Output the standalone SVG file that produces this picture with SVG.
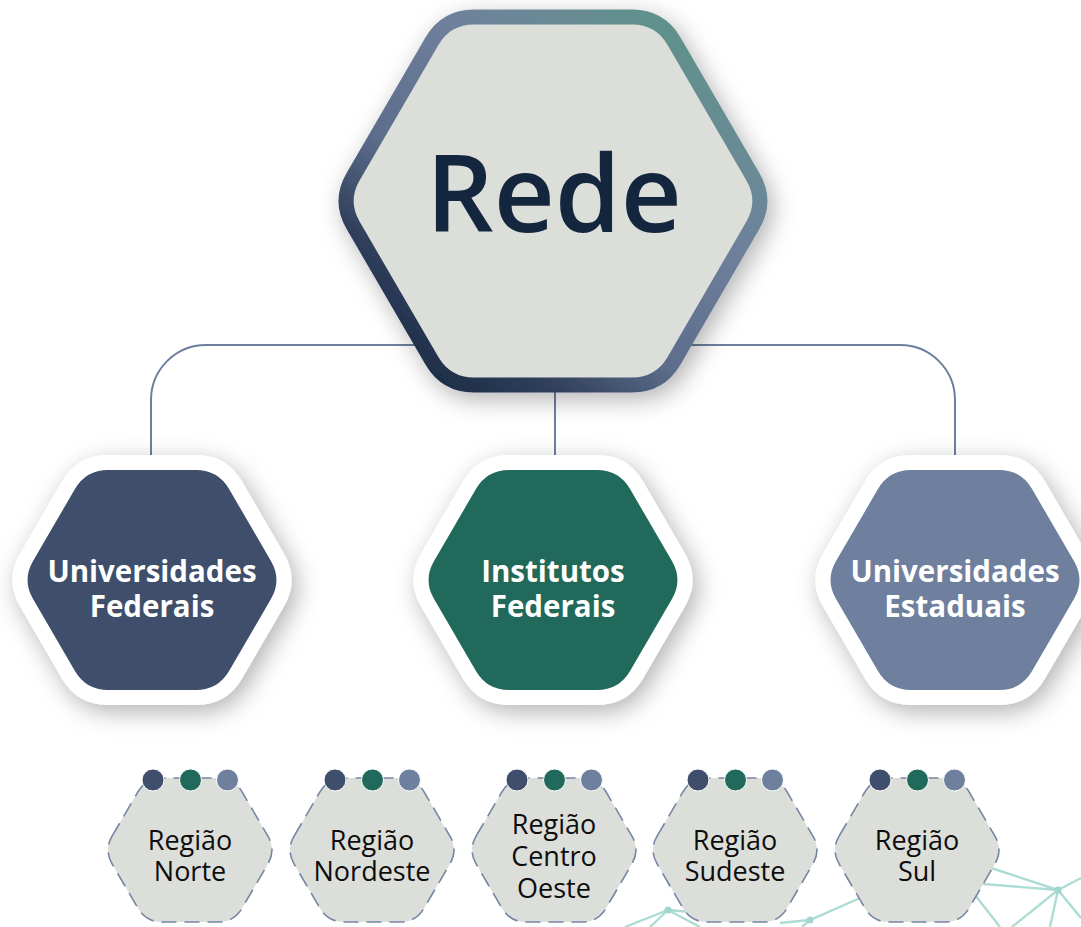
<svg xmlns="http://www.w3.org/2000/svg" width="1081" height="927" viewBox="0 0 1081 927">
<style>
.conn{fill:none;stroke:#6E7F9E;stroke-width:2}
.deco{fill:none;stroke:#9ED6CC;stroke-width:2.4;opacity:0.85}
.decon{fill:#9ED6CC;opacity:0.95}
.mid-out{fill:#FFFFFF;stroke:#FFFFFF;stroke-width:30;stroke-linejoin:round}
.mid-lbl{font-family:"Open Sans","Noto Sans",sans-serif;font-weight:700;font-size:29.5px;fill:#FFFFFF;text-anchor:middle}
.reg{fill:#DCDEDA;stroke:#7585A4;stroke-width:1.6;stroke-dasharray:15 8}
.reg-lbl{font-family:"Open Sans","Noto Sans",sans-serif;font-weight:500;font-size:27px;fill:#0D0D0D;text-anchor:middle}
.d1{fill:#3F4F6B;stroke:#FFFFFF;stroke-width:1}
.d2{fill:#21695A;stroke:#FFFFFF;stroke-width:1}
.d3{fill:#6F809E;stroke:#FFFFFF;stroke-width:1}
</style>
<defs>
<filter id="shadow" x="-30%" y="-30%" width="160%" height="160%">
<feDropShadow dx="5" dy="7" stdDeviation="12" flood-color="#000000" flood-opacity="0.3"/>
</filter>
<linearGradient id="topGrad" gradientUnits="userSpaceOnUse" x1="-153" y1="191" x2="147" y2="-191">
<stop offset="0" stop-color="#15263E"/>
<stop offset="0.2" stop-color="#2F3F5B"/>
<stop offset="0.38" stop-color="#5C6D8B"/>
<stop offset="0.65" stop-color="#6E7F9C"/>
<stop offset="0.8" stop-color="#6A8A96"/>
<stop offset="1" stop-color="#5A9485"/>
</linearGradient>
<path id="hexT" d="M-199.92,-24.21 L-121.08,-159.79 Q-107,-184 -79,-184 L79,-184 Q107,-184 121.08,-159.79 L199.92,-24.21 Q214,0 199.92,24.21 L121.08,159.79 Q107,184 79,184 L-79,184 Q-107,184 -121.08,159.79 L-199.92,24.21 Q-214,0 -199.92,-24.21 Z"/>
<path id="hexM" d="M-118.94,-19.02 L-77.06,-90.98 Q-66,-110 -44,-110 L44,-110 Q66,-110 77.06,-90.98 L118.94,-19.02 Q130,0 118.94,19.02 L77.06,90.98 Q66,110 44,110 L-44,110 Q-66,110 -77.06,90.98 L-118.94,19.02 Q-130,0 -118.94,-19.02 Z"/>
<path id="hexS" d="M-77.94,-13.82 L-52.06,-58.18 Q-44,-72 -28,-72 L28,-72 Q44,-72 52.06,-58.18 L77.94,-13.82 Q86,0 77.94,13.82 L52.06,58.18 Q44,72 28,72 L-28,72 Q-44,72 -52.06,58.18 L-77.94,13.82 Q-86,0 -77.94,-13.82 Z"/>
<g id="dots">
<circle class="d1" cx="-37" cy="0" r="11"/>
<circle class="d2" cx="0.5" cy="0" r="11"/>
<circle class="d3" cx="37.5" cy="0" r="11"/>
</g>
</defs>
<rect width="1081" height="927" fill="#FFFFFF"/>

<g id="decoration">
<path class="deco" d="M625,927 L668,910 L700,927 M668,910 L650,927 M668,910 L760,918 M780,923 L810,920 L860,898 M810,920 L802,927 M985,866 L1058,890 L1081,878 M983,884 L1058,890 M1058,890 L1012,927 M1058,890 L1050,927 M1058,890 L1081,918 M975,895 L1000,927"/>
<circle class="decon" cx="668" cy="910" r="3.5"/>
<circle class="decon" cx="810" cy="920" r="3.5"/>
<circle class="decon" cx="1058" cy="890" r="3.5"/>
</g>

<g id="connectors">
<path class="conn" d="M151,456 V400 A55,55 0 0 1 206,345 H900 A55,55 0 0 1 955,400 V456"/>
<path class="conn" d="M555,380 V456"/>
</g>

<g id="rede" transform="translate(553,201)">
<use href="#hexT" fill="#DCDEDA" stroke="url(#topGrad)" stroke-width="15" filter="url(#shadow)"/>
<text x="1" y="31" font-family="'Open Sans','Noto Sans',sans-serif" font-weight="600" font-size="106" fill="#13263D" text-anchor="middle">Rede</text>
</g>

<g id="universidades-federais" transform="translate(152,580)">
<use href="#hexM" class="mid-out" filter="url(#shadow)"/>
<use href="#hexM" fill="#3F4F6B"/>
<text class="mid-lbl" x="0" y="2">Universidades</text>
<text class="mid-lbl" x="0" y="37">Federais</text>
</g>

<g id="institutos-federais" transform="translate(553,580)">
<use href="#hexM" class="mid-out" filter="url(#shadow)"/>
<use href="#hexM" fill="#21695A"/>
<text class="mid-lbl" x="0" y="2">Institutos</text>
<text class="mid-lbl" x="0" y="37">Federais</text>
</g>

<g id="universidades-estaduais" transform="translate(955,580)">
<use href="#hexM" class="mid-out" filter="url(#shadow)"/>
<use href="#hexM" fill="#6F809E"/>
<text class="mid-lbl" x="0" y="2">Universidades</text>
<text class="mid-lbl" x="0" y="37">Estaduais</text>
</g>

<g id="regiao-norte" transform="translate(190,850)">
<use href="#hexS" class="reg"/>
<use href="#dots" y="-70"/>
<text class="reg-lbl" x="0" y="0">Região</text>
<text class="reg-lbl" x="0" y="31">Norte</text>
</g>

<g id="regiao-nordeste" transform="translate(372,850)">
<use href="#hexS" class="reg"/>
<use href="#dots" y="-70"/>
<text class="reg-lbl" x="0" y="0">Região</text>
<text class="reg-lbl" x="0" y="31">Nordeste</text>
</g>

<g id="regiao-centro-oeste" transform="translate(554,850)">
<use href="#hexS" class="reg"/>
<use href="#dots" y="-70"/>
<text class="reg-lbl" x="0" y="-16">Região</text>
<text class="reg-lbl" x="0" y="16">Centro</text>
<text class="reg-lbl" x="0" y="48">Oeste</text>
</g>

<g id="regiao-sudeste" transform="translate(735,850)">
<use href="#hexS" class="reg"/>
<use href="#dots" y="-70"/>
<text class="reg-lbl" x="0" y="0">Região</text>
<text class="reg-lbl" x="0" y="31">Sudeste</text>
</g>

<g id="regiao-sul" transform="translate(917,850)">
<use href="#hexS" class="reg"/>
<use href="#dots" y="-70"/>
<text class="reg-lbl" x="0" y="0">Região</text>
<text class="reg-lbl" x="0" y="31">Sul</text>
</g>
</svg>
